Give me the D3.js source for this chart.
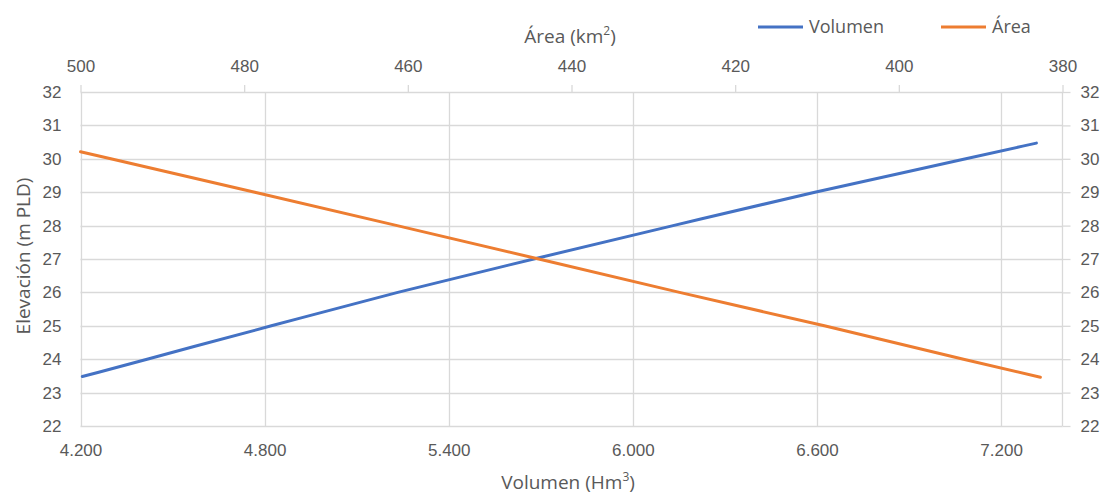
<!DOCTYPE html>
<html>
<head>
<meta charset="utf-8">
<script src="https://cdn.jsdelivr.net/npm/d3@7"></script>
<style>
  html, body { margin: 0; padding: 0; background: #fff; }
  svg { display: block; font-family: "Open Sans", "Noto Sans", sans-serif; }
</style>
</head>
<body>
<svg id="chart" width="1102" height="494"></svg>
<script>
// ---- Data ----
const volElev   = [23.48, 24, 25, 26, 27, 28, 29, 30, 30.47];
const volValues = [4206, 4417, 4822, 5234, 5677, 6131, 6593, 7085, 7315];

const areaElev   = [23.46, 24, 25, 26, 27, 28, 29, 30, 30.21];
const areaValues = [382.7, 392.1, 409.1, 426.8, 444.0, 461.3, 478.7, 496.3, 500];

const volTicks  = [4200, 4800, 5400, 6000, 6600, 7200];
const areaTicks = [500, 480, 460, 440, 420, 400, 380];
const elevTicks = [22, 23, 24, 25, 26, 27, 28, 29, 30, 31, 32];

const seriesNames = ["Volumen", "Área"];
const seriesColors = ["#4472C4", "#ED7D31"];

// ---- Layout ----
const svg = d3.select("#chart");
const L = 80.5, R = 1062.5, T = 92, B = 426;
const textColor = "#595959", gridColor = "#d9d9d9";

const xVol  = d3.scaleLinear().domain([4200, 7400]).range([L, R]);
const xArea = d3.scaleLinear().domain([500, 380]).range([L, R]);
const y     = d3.scaleLinear().domain([22, 32]).range([B, T]);

const loc = d3.formatLocale({decimal: ",", thousands: ".", grouping: [3], currency: ["", ""]});
const fmtVol = loc.format(",.0f");

// gridlines
const g = svg.append("g");
g.selectAll("line.h").data(elevTicks).join("line")
  .attr("x1", L).attr("x2", R)
  .attr("y1", d => Math.round(y(d)) + 0.5).attr("y2", d => Math.round(y(d)) + 0.5)
  .attr("stroke", gridColor).attr("stroke-width", 1.3);
g.selectAll("line.v").data(volTicks).join("line")
  .attr("y1", T).attr("y2", B)
  .attr("x1", d => Math.round(xVol(d)) + 0.5).attr("x2", d => Math.round(xVol(d)) + 0.5)
  .attr("stroke", gridColor).attr("stroke-width", 1.3);
// right axis line
g.append("line").attr("x1", R).attr("x2", R).attr("y1", T).attr("y2", B)
  .attr("stroke", gridColor).attr("stroke-width", 1.3);

function styleAxis(sel) {
  sel.select(".domain").remove();
  sel.selectAll(".tick line").attr("stroke", gridColor).attr("stroke-width", 1.3);
  sel.selectAll(".tick text").attr("fill", textColor).attr("font-size", 17);
}

// bottom axis (no tick marks)
svg.append("g").attr("transform", `translate(0,${B})`)
  .call(d3.axisBottom(xVol).tickValues(volTicks).tickFormat(fmtVol).tickSize(0).tickPadding(18))
  .call(styleAxis);

// top axis (ticks outward)
svg.append("g").attr("transform", `translate(0,${T})`)
  .call(d3.axisTop(xArea).tickValues(areaTicks).tickFormat(d3.format("d")).tickSize(7).tickPadding(13))
  .call(styleAxis);

// left axis (no ticks)
svg.append("g").attr("transform", `translate(${L},0)`)
  .call(d3.axisLeft(y).tickValues(elevTicks).tickFormat(d3.format("d")).tickSize(0).tickPadding(19))
  .call(styleAxis);

// right axis (ticks outward)
svg.append("g").attr("transform", `translate(${R},0)`)
  .call(d3.axisRight(y).tickValues(elevTicks).tickFormat(d3.format("d")).tickSize(8).tickPadding(10))
  .call(styleAxis);

// lines
const volData = volElev.map((e, i) => ({e, v: volValues[i]}));
const areaData = areaElev.map((e, i) => ({e, v: areaValues[i]}));

svg.append("path").datum(volData)
  .attr("fill", "none").attr("stroke", seriesColors[0]).attr("stroke-width", 3)
  .attr("stroke-linecap", "round").attr("stroke-linejoin", "round")
  .attr("d", d3.line().x(d => xVol(d.v)).y(d => y(d.e)).curve(d3.curveMonotoneX));

svg.append("path").datum(areaData)
  .attr("fill", "none").attr("stroke", seriesColors[1]).attr("stroke-width", 3)
  .attr("stroke-linecap", "round").attr("stroke-linejoin", "round")
  .attr("d", d3.line().x(d => xArea(d.v)).y(d => y(d.e)));

// axis titles
const bt = svg.append("text").attr("x", 568).attr("y", 489)
  .attr("text-anchor", "middle").attr("fill", textColor).attr("font-size", 19);
bt.append("tspan").text("Volumen (Hm");
bt.append("tspan").text("3").attr("font-size", 12).attr("dy", -8);
bt.append("tspan").text(")").attr("dy", 8);

const tt = svg.append("text").attr("x", 570).attr("y", 43)
  .attr("text-anchor", "middle").attr("fill", textColor).attr("font-size", 19);
tt.append("tspan").text("Área (km");
tt.append("tspan").text("2").attr("font-size", 12).attr("dy", -8);
tt.append("tspan").text(")").attr("dy", 8);

svg.append("text").attr("transform", `translate(30,${256}) rotate(-90)`)
  .attr("text-anchor", "middle").attr("fill", textColor).attr("font-size", 19)
  .text("Elevación (m PLD)");

// legend
const legendX = [758, 941];
seriesNames.forEach((name, i) => {
  const lg = svg.append("g").attr("transform", `translate(${legendX[i]},27)`);
  lg.append("line").attr("x1", 0).attr("x2", 45).attr("y1", 0).attr("y2", 0)
    .attr("stroke", seriesColors[i]).attr("stroke-width", 3).attr("stroke-linecap", "butt");
  lg.append("text").attr("x", 51).attr("y", 0).attr("dy", "0.35em")
    .attr("fill", textColor).attr("font-size", 18).text(name);
});
</script>
</body>
</html>
